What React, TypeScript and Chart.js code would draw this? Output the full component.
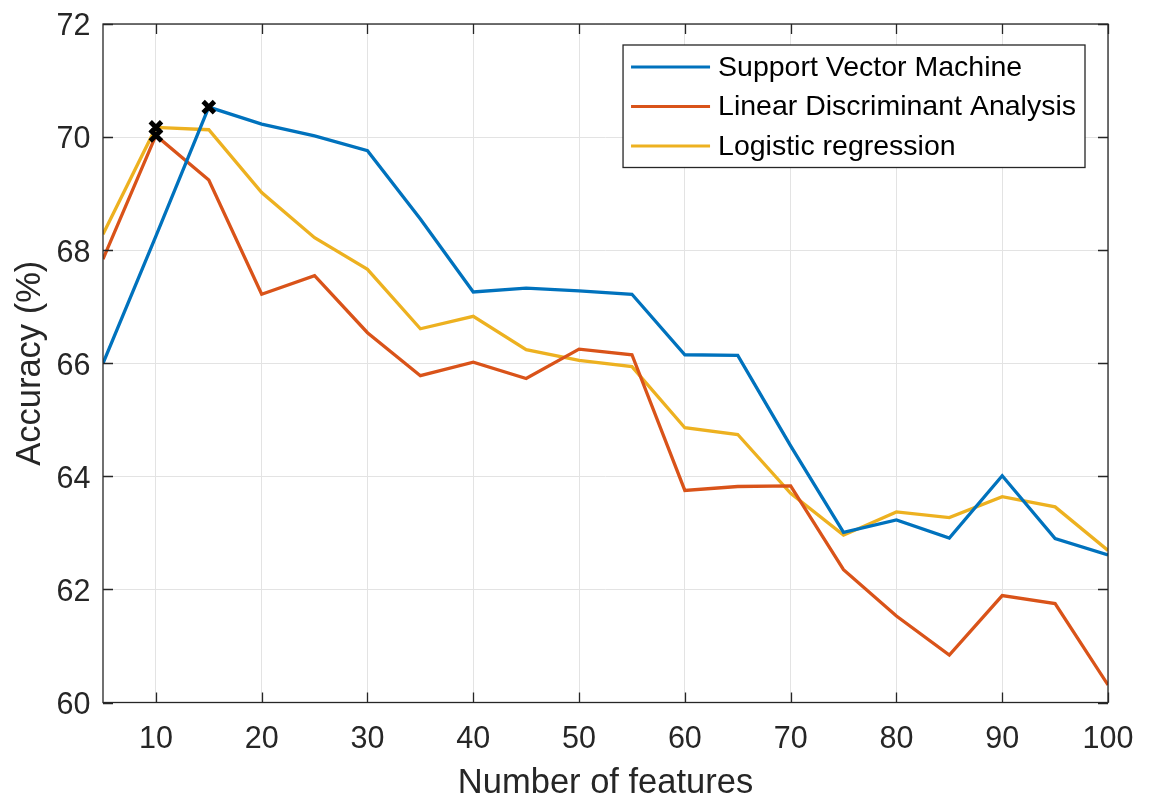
import React, { useEffect, useRef } from "react";
import { Chart, registerables } from "chart.js";

Chart.register(...registerables);

const features = [5, 10, 15, 20, 25, 30, 35, 40, 45, 50, 55, 60, 65, 70, 75, 80, 85, 90, 95, 100];
const svmAcc = [66.0, 68.25, 70.53, 70.23, 70.02, 69.76, 68.55, 67.26, 67.33, 67.28, 67.22, 66.15, 66.14, 64.54, 63.01, 63.23, 62.91, 64.01, 62.9, 62.61];
const ldaAcc = [67.84, 70.03, 69.24, 67.22, 67.55, 66.54, 65.78, 66.02, 65.73, 66.25, 66.15, 63.75, 63.82, 63.83, 62.35, 61.53, 60.84, 61.89, 61.75, 60.31];
const lrAcc = [68.28, 70.17, 70.13, 69.02, 68.22, 67.66, 66.61, 66.83, 66.24, 66.05, 65.94, 64.86, 64.74, 63.7, 62.96, 63.37, 63.27, 63.64, 63.46, 62.69];
const seriesNames = ["Support Vector Machine", "Linear Discriminant Analysis", "Logistic regression"];
const seriesColors = ["#0072BD", "#D95319", "#EDB120"];
const xTicks = [10, 20, 30, 40, 50, 60, 70, 80, 90, 100];
const yMin = 60;
const yMax = 72;
const yStep = 2;
const xTitle = "Number of features";
const yTitle = "Accuracy (%)";

const FONT = "'Liberation Sans', Arial, Helvetica, sans-serif";
const TEXT = "#262626";

function argMax(a: number[]) {
  let k = 0;
  for (let i = 1; i < a.length; i++) if (a[i] > a[k]) k = i;
  return k;
}

const boxPlugin = {
  id: "matlabBox",
  afterDatasetsDraw(chart: any) {
    const { ctx, chartArea } = chart;
    const { left, right, top, bottom } = chartArea;
    const xs = chart.scales.x;
    const ys = chart.scales.y;
    const tl = 10;
    ctx.save();
    ctx.strokeStyle = TEXT;
    ctx.lineWidth = 1.3;
    ctx.beginPath();
    xs.ticks.forEach((t: any) => {
      const px = Math.round(xs.getPixelForValue(t.value)) + 0.5;
      ctx.moveTo(px, bottom);
      ctx.lineTo(px, bottom - tl);
      ctx.moveTo(px, top);
      ctx.lineTo(px, top + tl);
    });
    ys.ticks.forEach((t: any) => {
      const py = Math.round(ys.getPixelForValue(t.value)) + 0.5;
      ctx.moveTo(left, py);
      ctx.lineTo(left + tl, py);
      ctx.moveTo(right, py);
      ctx.lineTo(right - tl, py);
    });
    ctx.stroke();
    ctx.strokeRect(left, top, right - left, bottom - top);

    // legend
    const ds = chart.data.datasets;
    ctx.font = `28.5px ${FONT}`;
    let maxW = 0;
    ds.forEach((d: any) => {
      maxW = Math.max(maxW, ctx.measureText(d.label).width);
    });
    const lineLen = 79;
    const bx1 = right - 23;
    const textX = bx1 - 9 - maxW;
    const lineX1 = textX - 8;
    const lineX0 = lineX1 - lineLen;
    const bx0 = lineX0 - 8;
    const by0 = top + 21;
    const rowH = 39.5;
    const by1 = by0 + rowH * ds.length + 4;
    ctx.fillStyle = "#ffffff";
    ctx.fillRect(bx0, by0, bx1 - bx0, by1 - by0);
    ctx.strokeStyle = TEXT;
    ctx.lineWidth = 1.3;
    ctx.strokeRect(bx0, by0, bx1 - bx0, by1 - by0);
    ds.forEach((d: any, i: number) => {
      const cy = by0 + 22 + i * rowH;
      ctx.strokeStyle = d.borderColor;
      ctx.lineWidth = 3.2;
      ctx.beginPath();
      ctx.moveTo(lineX0, cy);
      ctx.lineTo(lineX1, cy);
      ctx.stroke();
      ctx.fillStyle = "#000000";
      ctx.textAlign = "left";
      ctx.textBaseline = "middle";
      ctx.fillText(d.label, textX, cy + 1);
    });
    ctx.restore();
  },
};

export default function App() {
  const ref = useRef<HTMLCanvasElement | null>(null);
  useEffect(() => {
    document.body.style.margin = "0";
    const all = [svmAcc, ldaAcc, lrAcc];
    const datasets = all.map((vals, si) => {
      const mk = argMax(vals);
      return {
        label: seriesNames[si],
        data: features.map((f, i) => ({ x: f, y: vals[i] })),
        borderColor: seriesColors[si],
        backgroundColor: seriesColors[si],
        borderWidth: 3.3,
        tension: 0,
        pointStyle: "crossRot",
        pointRadius: (c: any) => (c.dataIndex === mk ? 8 : 0),
        pointHoverRadius: 0,
        pointBorderColor: "#000000",
        pointBackgroundColor: "#000000",
        pointBorderWidth: 4.8,
      };
    });
    const chart = new Chart(ref.current as HTMLCanvasElement, {
      type: "line",
      data: { datasets },
      plugins: [boxPlugin],
      options: {
        animation: false,
        responsive: false,
        maintainAspectRatio: false,
        layout: { padding: { top: 24, right: 44, left: 0, bottom: 0 } },
        plugins: { legend: { display: false }, tooltip: { enabled: false } },
        scales: {
          x: {
            type: "linear",
            min: features[0],
            max: features[features.length - 1],
            afterBuildTicks: (s: any) => {
              s.ticks = xTicks.map((v) => ({ value: v }));
            },
            afterFit: (s: any) => {
              s.height = 95.5;
              s.paddingLeft = 0;
              s.paddingRight = 0;
            },
            grid: { color: "#e3e3e3", lineWidth: 1, drawTicks: false },
            border: { display: false },
            ticks: {
              padding: 19,
              color: TEXT,
              font: { family: FONT, size: 30.5, lineHeight: 1.2 },
              maxRotation: 0,
              autoSkip: false,
            },
            title: {
              display: true,
              text: xTitle,
              color: TEXT,
              font: { family: FONT, size: 34.5, lineHeight: 0.82 },
              padding: { top: 0, bottom: 0 },
            },
          },
          y: {
            min: yMin,
            max: yMax,
            afterFit: (s: any) => {
              s.width = 103;
              s.paddingTop = 0;
              s.paddingBottom = 0;
            },
            grid: { color: "#e3e3e3", lineWidth: 1, drawTicks: false },
            border: { display: false },
            ticks: {
              stepSize: yStep,
              padding: 12.5,
              labelOffset: 3,
              color: TEXT,
              font: { family: FONT, size: 30.5, lineHeight: 1.2 },
            },
            title: {
              display: true,
              text: yTitle,
              color: TEXT,
              font: { family: FONT, size: 34.5, lineHeight: 0.9 },
              padding: { top: 15, bottom: 0 },
            },
          },
        },
      },
    } as any);
    return () => chart.destroy();
  }, []);
  return (
    <canvas
      ref={ref}
      width={1152}
      height={798}
      style={{ position: "absolute", left: 0, top: 0, width: 1152, height: 798, background: "#fff" }}
    />
  );
}
